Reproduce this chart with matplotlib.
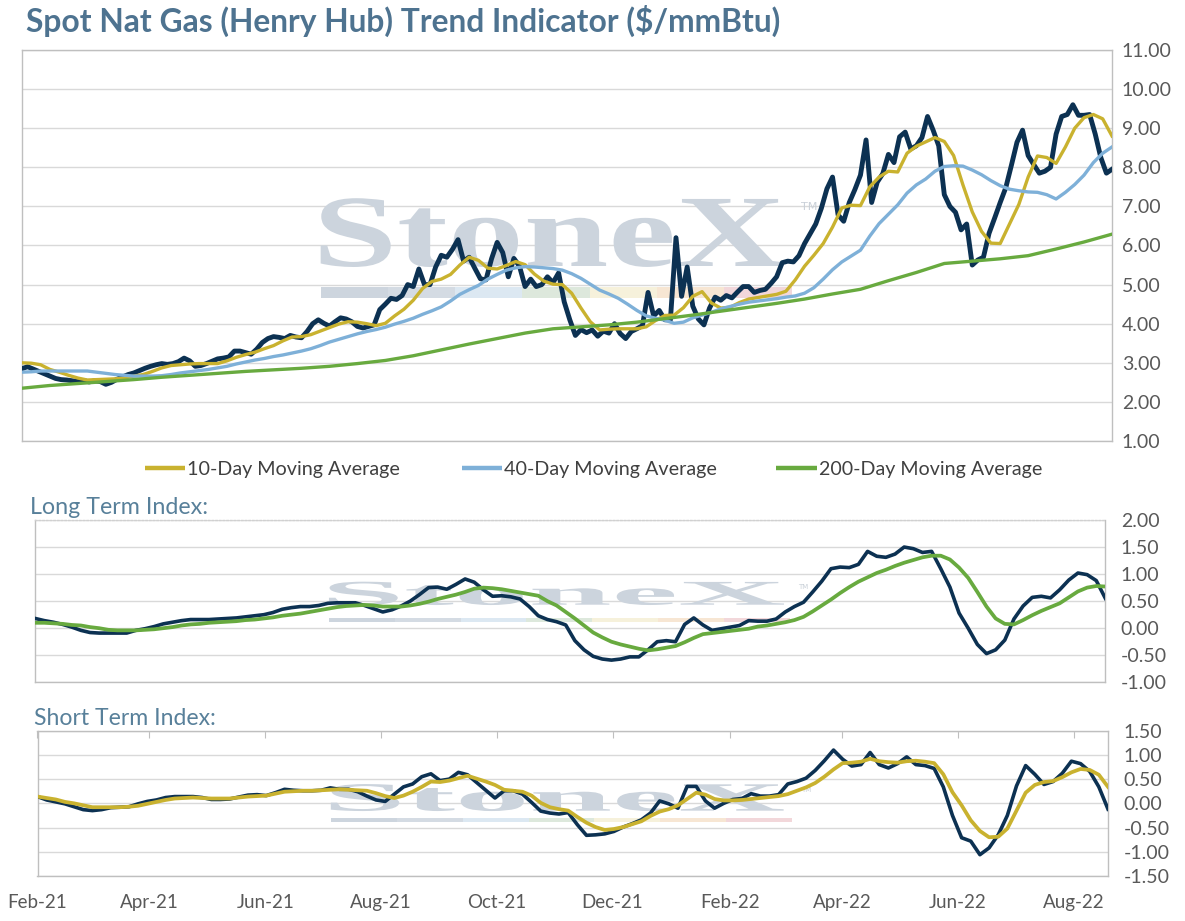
import matplotlib
matplotlib.use('Agg')
import matplotlib.pyplot as plt
import matplotlib.dates as mdates
from matplotlib.textpath import TextPath
from matplotlib.patches import PathPatch, Rectangle
from matplotlib.font_manager import FontProperties
from matplotlib.transforms import Affine2D
from matplotlib.lines import Line2D
from matplotlib.ticker import FormatStrFormatter, FixedLocator
import pandas as pd

plt.rcParams['font.family'] = ['Lato', 'DejaVu Sans']

# ---------------- data ----------------
START = '2021-02-23'
END = '2022-09-10'

spot = [2.85, 2.90, 2.84, 2.78, 2.72, 2.66, 2.60, 2.57, 2.56, 2.54,
        2.52, 2.55, 2.51, 2.54, 2.52, 2.45, 2.50, 2.58, 2.64, 2.70,
        2.74, 2.80, 2.86, 2.91, 2.95, 2.98, 2.96, 2.98, 3.03, 3.12,
        3.05, 2.91, 2.93, 2.98, 3.04, 3.10, 3.12, 3.15, 3.30, 3.30,
        3.26, 3.22, 3.35, 3.52, 3.62, 3.67, 3.65, 3.62, 3.70, 3.66,
        3.64, 3.80, 4.00, 4.10, 4.01, 3.94, 4.05, 4.15, 4.12, 4.05,
        3.93, 3.89, 3.93, 3.97, 4.36, 4.50, 4.65, 4.62, 4.72, 5.00,
        4.95, 5.40, 5.00, 5.00, 5.45, 5.75, 5.70, 5.90, 6.15, 5.60,
        5.70, 5.42, 5.15, 5.12, 5.66, 6.08, 5.82, 5.20, 5.67, 5.47,
        4.95, 5.14, 4.95, 5.00, 5.20, 5.05, 5.30, 4.56, 4.10, 3.70,
        3.85, 3.77, 3.84, 3.68, 3.81, 3.76, 4.00, 3.75, 3.62, 3.80,
        3.87, 3.95, 4.80, 4.20, 4.34, 4.10, 4.10, 6.20, 4.70, 5.45,
        4.45, 4.12, 3.97, 4.40, 4.68, 4.60, 4.72, 4.66, 4.81, 4.95,
        4.95, 4.80, 4.85, 4.88, 5.03, 5.20, 5.56, 5.60, 5.58, 5.74,
        6.05, 6.30, 6.55, 6.95, 7.45, 7.75, 6.78, 6.62, 7.10, 7.43,
        7.80, 8.70, 7.10, 7.62, 7.84, 8.33, 8.12, 8.78, 8.90, 8.47,
        8.55, 8.76, 9.30, 8.95, 8.55, 7.30, 7.00, 6.85, 6.40, 6.55,
        5.50, 5.63, 5.70, 6.31, 6.70, 7.10, 7.48, 8.05, 8.64, 8.95,
        8.30, 8.07, 7.85, 7.90, 8.00, 8.85, 9.30, 9.35, 9.60, 9.33,
        9.33, 9.35, 8.85, 8.25, 7.85, 7.95]

ma10 = [3.00, 2.99, 2.95, 2.83, 2.76, 2.68, 2.61, 2.56, 2.57, 2.58,
        2.59, 2.61, 2.66, 2.70, 2.78, 2.87, 2.93, 2.95, 2.97, 2.98,
        2.98, 2.98, 3.05, 3.14, 3.21, 3.27, 3.36, 3.44, 3.56, 3.66,
        3.67, 3.72, 3.81, 3.90, 3.99, 4.05, 4.04, 4.00, 3.95, 4.01,
        4.20, 4.37, 4.60, 4.90, 5.08, 5.14, 5.26, 5.50, 5.70, 5.62,
        5.42, 5.40, 5.49, 5.59, 5.51, 5.27, 5.09, 5.01, 5.00, 4.78,
        4.40, 4.05, 3.84, 3.86, 3.87, 3.87, 3.87, 3.92, 4.08, 4.21,
        4.22, 4.41, 4.70, 4.82, 4.53, 4.40, 4.42, 4.54, 4.63, 4.67,
        4.71, 4.75, 4.83, 5.12, 5.47, 5.75, 6.05, 6.47, 6.96, 7.03,
        7.02, 7.50, 7.75, 7.90, 7.88, 8.36, 8.54, 8.65, 8.76, 8.66,
        8.30, 7.55, 6.86, 6.36, 6.06, 6.05, 6.55, 7.05, 7.75, 8.29,
        8.25, 8.10, 8.52, 9.00, 9.27, 9.35, 9.24, 8.80]

ma40 = [2.76, 2.77, 2.79, 2.79, 2.79, 2.79, 2.79, 2.79, 2.76, 2.73,
        2.70, 2.68, 2.66, 2.66, 2.66, 2.67, 2.70, 2.74, 2.77, 2.80,
        2.83, 2.87, 2.91, 2.97, 3.02, 3.07, 3.11, 3.16, 3.20, 3.25,
        3.30, 3.36, 3.44, 3.53, 3.60, 3.67, 3.74, 3.80, 3.85, 3.91,
        3.99, 4.06, 4.14, 4.24, 4.33, 4.43, 4.58, 4.75, 4.87, 4.98,
        5.14, 5.26, 5.37, 5.43, 5.46, 5.45, 5.43, 5.41, 5.37, 5.28,
        5.16, 5.01, 4.86, 4.76, 4.65, 4.50, 4.34, 4.20, 4.14, 4.09,
        4.01, 4.04, 4.15, 4.22, 4.29, 4.38, 4.44, 4.50, 4.55, 4.58,
        4.61, 4.64, 4.68, 4.71, 4.78, 4.92, 5.14, 5.38, 5.58, 5.73,
        5.88, 6.24, 6.56, 6.80, 7.04, 7.34, 7.55, 7.70, 7.90, 8.02,
        8.04, 8.03, 7.93, 7.81, 7.66, 7.53, 7.44, 7.40, 7.37, 7.36,
        7.30, 7.19, 7.36, 7.56, 7.80, 8.12, 8.36, 8.52]

ma200 = [2.35, 2.42, 2.47, 2.52, 2.57, 2.63, 2.68, 2.73, 2.78, 2.82,
         2.86, 2.91, 2.98, 3.06, 3.18, 3.33, 3.48, 3.62, 3.76, 3.87,
         3.92, 3.97, 4.04, 4.13, 4.22, 4.32, 4.42, 4.52, 4.63, 4.76,
         4.88, 5.10, 5.31, 5.54, 5.60, 5.66, 5.74, 5.91, 6.09, 6.29]

long_index = [0.18, 0.14, 0.11, 0.07, 0.02, -0.04, -0.08, -0.09, -0.09, -0.09,
              -0.09, -0.04, -0.01, 0.03, 0.08, 0.11, 0.14, 0.16, 0.16, 0.16,
              0.17, 0.18, 0.19, 0.21, 0.23, 0.25, 0.29, 0.35, 0.38, 0.40,
              0.40, 0.42, 0.46, 0.47, 0.47, 0.47, 0.42, 0.36, 0.30, 0.34,
              0.41, 0.50, 0.62, 0.75, 0.76, 0.72, 0.81, 0.91, 0.85, 0.71,
              0.59, 0.60, 0.58, 0.54, 0.40, 0.23, 0.16, 0.12, 0.06, -0.23,
              -0.40, -0.52, -0.57, -0.59, -0.57, -0.53, -0.53, -0.40, -0.25, -0.23,
              -0.25, 0.07, 0.19, 0.06, -0.04, -0.01, 0.02, 0.05, 0.14, 0.13,
              0.13, 0.17, 0.30, 0.40, 0.48, 0.67, 0.87, 1.10, 1.13, 1.12,
              1.18, 1.42, 1.33, 1.31, 1.37, 1.50, 1.47, 1.40, 1.42, 1.10,
              0.76, 0.28, 0.00, -0.30, -0.47, -0.40, -0.22, 0.17, 0.41, 0.57,
              0.59, 0.56, 0.71, 0.89, 1.02, 0.99, 0.88, 0.55]

long_signal = [0.10, 0.10, 0.09, 0.08, 0.06, 0.05, 0.02, 0.00, -0.03, -0.04,
               -0.04, -0.04, -0.03, -0.02, 0.00, 0.02, 0.05, 0.07, 0.08, 0.10,
               0.11, 0.12, 0.13, 0.15, 0.16, 0.18, 0.20, 0.23, 0.25, 0.27,
               0.30, 0.33, 0.36, 0.39, 0.41, 0.42, 0.43, 0.42, 0.40, 0.40,
               0.40, 0.42, 0.45, 0.49, 0.54, 0.58, 0.62, 0.67, 0.73, 0.75,
               0.74, 0.72, 0.69, 0.66, 0.63, 0.60, 0.50, 0.42, 0.30, 0.18,
               0.05, -0.08, -0.17, -0.25, -0.30, -0.34, -0.38, -0.41, -0.39, -0.36,
               -0.33, -0.26, -0.18, -0.11, -0.09, -0.07, -0.05, -0.03, -0.01, 0.03,
               0.05, 0.08, 0.11, 0.15, 0.21, 0.31, 0.42, 0.53, 0.65, 0.76,
               0.86, 0.94, 1.02, 1.08, 1.15, 1.21, 1.26, 1.31, 1.34, 1.34,
               1.27, 1.12, 0.93, 0.67, 0.40, 0.18, 0.08, 0.07, 0.15, 0.24,
               0.32, 0.39, 0.46, 0.57, 0.68, 0.75, 0.78, 0.77]

short_index = [0.14, 0.07, 0.03, -0.01, -0.07, -0.13, -0.15, -0.13, -0.09, -0.08,
               -0.07, -0.01, 0.04, 0.07, 0.12, 0.14, 0.14, 0.14, 0.12, 0.08,
               0.08, 0.09, 0.13, 0.17, 0.18, 0.16, 0.22, 0.29, 0.27, 0.26,
               0.26, 0.27, 0.32, 0.29, 0.29, 0.24, 0.15, 0.07, 0.04, 0.19,
               0.34, 0.40, 0.55, 0.61, 0.47, 0.50, 0.64, 0.59, 0.43, 0.27,
               0.11, 0.26, 0.26, 0.19, 0.02, -0.16, -0.20, -0.22, -0.19, -0.44,
               -0.66, -0.65, -0.63, -0.58, -0.49, -0.42, -0.34, -0.20, 0.05, -0.01,
               -0.10, 0.35, 0.35, 0.05, -0.10, 0.00, 0.08, 0.10, 0.20, 0.15,
               0.15, 0.18, 0.40, 0.45, 0.52, 0.68, 0.88, 1.10, 0.91, 0.77,
               0.80, 1.05, 0.80, 0.73, 0.82, 0.96, 0.80, 0.78, 0.72, 0.34,
               -0.25, -0.71, -0.78, -1.06, -0.92, -0.65, -0.25, 0.36, 0.78, 0.60,
               0.39, 0.45, 0.62, 0.87, 0.82, 0.66, 0.34, -0.12]

short_signal = [0.14, 0.11, 0.08, 0.03, 0.00, -0.04, -0.08, -0.08, -0.08, -0.08,
                -0.07, -0.05, -0.01, 0.03, 0.07, 0.10, 0.11, 0.12, 0.11, 0.10,
                0.10, 0.10, 0.12, 0.14, 0.15, 0.16, 0.20, 0.24, 0.25, 0.26,
                0.26, 0.27, 0.28, 0.29, 0.28, 0.27, 0.26, 0.21, 0.15, 0.11,
                0.16, 0.24, 0.34, 0.45, 0.44, 0.47, 0.52, 0.57, 0.51, 0.45,
                0.38, 0.28, 0.26, 0.24, 0.16, 0.01, -0.08, -0.12, -0.15, -0.28,
                -0.40, -0.49, -0.55, -0.53, -0.49, -0.43, -0.37, -0.26, -0.17, -0.12,
                -0.04, 0.09, 0.22, 0.18, 0.09, 0.06, 0.06, 0.07, 0.09, 0.11,
                0.13, 0.15, 0.19, 0.26, 0.33, 0.42, 0.55, 0.70, 0.83, 0.84,
                0.86, 0.92, 0.87, 0.85, 0.84, 0.87, 0.88, 0.86, 0.83, 0.60,
                0.23, -0.04, -0.35, -0.57, -0.70, -0.69, -0.52, -0.15, 0.22, 0.38,
                0.44, 0.46, 0.54, 0.64, 0.71, 0.69, 0.59, 0.34]

legend_labels = ['10-Day Moving Average', '40-Day Moving Average', '200-Day Moving Average']
title_text = 'Spot Nat Gas (Henry Hub) Trend Indicator ($/mmBtu)'

spot_dates = pd.date_range(START, END, periods=len(spot))
ma_dates = pd.date_range(START, END, periods=len(ma10))
ma200_dates = pd.date_range(START, END, periods=len(ma200))
idx_dates = pd.date_range(START, END, periods=len(long_index))

# ---------------- style ----------------
NAVY = '#0c3152'
GOLD = '#c9b22f'
BLUE = '#7eb0d8'
GREEN = '#68aa3f'
GRID = '#d9d9d9'
SPINE = '#bfbfbf'
TICK = '#595959'
TITLE = '#4e7390'

W, H = 1185, 921
fig = plt.figure(figsize=(W / 100, H / 100), dpi=100)
fig.patch.set_facecolor('white')


def px_axes(l, t, r, b):
    return fig.add_axes([l / W, 1 - b / H, (r - l) / W, (b - t) / H])


ax1 = px_axes(22, 50, 1112, 441)
ax2 = px_axes(35.2, 520, 1105.4, 682.3)
ax3 = px_axes(37.5, 730.7, 1108, 876)

xmin, xmax = pd.Timestamp(START), pd.Timestamp(END)


def watermark(ax, x0, x1, y0, y1, by0, by1, bx1, tmx, tmy, tms):
    fp = FontProperties(family='Liberation Serif', weight='bold')
    tp = TextPath((0, 0), 'StoneX', size=1, prop=fp)
    ext = tp.get_extents()
    tr = (Affine2D().translate(-ext.x0, -ext.y0)
          .scale((x1 - x0) / ext.width, (y1 - y0) / ext.height)
          .translate(x0, y0))
    ax.add_patch(PathPatch(tr.transform_path(tp), transform=ax.transAxes,
                           facecolor='#ccd4dd', edgecolor='none', zorder=1))
    ax.text(tmx, tmy, 'TM', transform=ax.transAxes, fontsize=tms,
            color='#c9d0d8', family='DejaVu Sans', zorder=1, va='center')
    cols = ['#cdd5de', '#d4dbe3', '#dce8f2', '#dde8dc', '#f6f1db', '#f7e6d3', '#f2d7da']
    seg = (bx1 - x0) / len(cols)
    for i, c in enumerate(cols):
        ax.add_patch(Rectangle((x0 + i * seg, by0), seg, by1 - by0,
                               transform=ax.transAxes, facecolor=c,
                               edgecolor='none', zorder=1))


def style(ax, ylo, yhi, step, pad):
    ax.set_xlim(xmin, xmax)
    ax.set_ylim(ylo, yhi)
    ticks = []
    v = ylo
    while v <= yhi + 1e-9:
        ticks.append(round(v, 2))
        v += step
    ax.set_yticks(ticks)
    ax.yaxis.tick_right()
    ax.yaxis.set_major_formatter(FormatStrFormatter('%.2f'))
    ax.tick_params(axis='y', length=0, pad=pad, labelsize=14, labelcolor=TICK)
    ax.grid(axis='y', color=GRID, lw=1.0)
    ax.set_axisbelow(True)
    for s in ax.spines.values():
        s.set_color(SPINE)
        s.set_linewidth(1.0)


# ---- top panel ----
style(ax1, 1, 11, 1, 7)
ax1.set_xticks([])
watermark(ax1, 0.274, 0.699, 0.445, 0.621, 0.366, 0.394, 0.706, 0.715, 0.598, 8)
ax1.plot(spot_dates, spot, color=NAVY, lw=3.5, solid_joinstyle='round', zorder=3)
l10, = ax1.plot(ma_dates, ma10, color=GOLD, lw=2.4, solid_joinstyle='round', zorder=4)
l40, = ax1.plot(ma_dates, ma40, color=BLUE, lw=2.4, solid_joinstyle='round', zorder=5)
l200, = ax1.plot(ma200_dates, ma200, color=GREEN, lw=2.4, solid_joinstyle='round', zorder=6)

# ---- middle panel ----
style(ax2, -1, 2, 0.5, 11)
ax2.set_xticks([])
ax2.spines['top'].set_linestyle(':')
ax2.spines['top'].set_color('#d0d0d0')
watermark(ax2, 0.2745, 0.6997, 0.476, 0.620, 0.3715, 0.398, 0.705, 0.713, 0.59, 5)
ax2.plot(idx_dates, long_index, color=NAVY, lw=2.6, solid_joinstyle='round', zorder=3)
ax2.plot(idx_dates, long_signal, color=GREEN, lw=2.7, solid_joinstyle='round', zorder=4)

# ---- bottom panel ----
style(ax3, -1.5, 1.5, 0.5, 11)
watermark(ax3, 0.274, 0.697, 0.447, 0.633, 0.372, 0.399, 0.705, 0.713, 0.59, 5)
ax3.plot(idx_dates, short_index, color=NAVY, lw=2.6, solid_joinstyle='round', zorder=3)
ax3.plot(idx_dates, short_signal, color=GOLD, lw=2.7, solid_joinstyle='round', zorder=4)
xt = [xmin + pd.DateOffset(months=2 * i) for i in range(10)]
ax3.xaxis.set_major_locator(FixedLocator(mdates.date2num(xt)))
ax3.xaxis.set_major_formatter(mdates.DateFormatter('%b-%y'))
ax3.tick_params(axis='x', bottom=False, top=True, direction='in', length=5,
                color=SPINE, labelbottom=True, labeltop=False, pad=13,
                labelsize=13.5, labelcolor=TICK)

# ---- texts ----
renderer = fig.canvas.get_renderer()


def fit(t, width_px):
    bb = t.get_window_extent(renderer)
    t.set_fontsize(t.get_fontsize() * width_px / bb.width)


t = fig.text(25.5 / W, 1 - 32 / H, title_text, fontsize=19, fontweight='bold',
             color=TITLE, va='baseline', ha='left')
fit(t, 755)
t = fig.text(30 / W, 1 - 514 / H, 'Long Term Index:', fontsize=15,
             color='#58809a', va='baseline', ha='left')
fit(t, 178)
t = fig.text(33.7 / W, 1 - 725 / H, 'Short Term Index:', fontsize=15,
             color='#58809a', va='baseline', ha='left')
fit(t, 182)

# legend
leg = [(145, 185, 187, l10), (462, 502, 504, l40), (776, 817, 819, l200)]
for (x0, x1, tx, h), lab in zip(leg, legend_labels):
    fig.add_artist(Line2D([x0 / W, x1 / W], [1 - 468 / H, 1 - 468 / H],
                          transform=fig.transFigure, color=h.get_color(), lw=3.2,
                          solid_capstyle='butt'))
    t = fig.text(tx / W, 1 - 474.5 / H, lab, fontsize=13, color='#404040',
                 va='baseline', ha='left')
    fit(t, 212 if lab[0] != '2' else 222)

fig.savefig('out.png', dpi=100, facecolor='white')
